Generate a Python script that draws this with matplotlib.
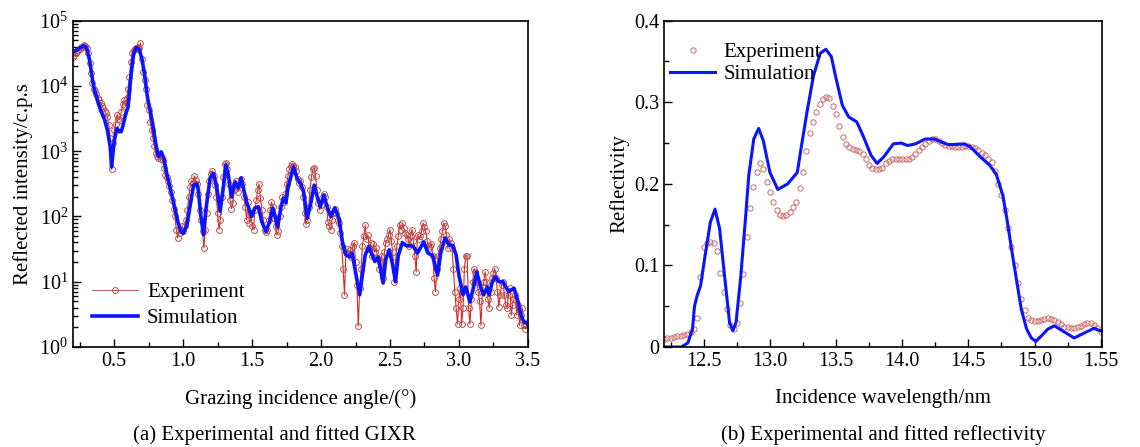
import numpy as np
import matplotlib
matplotlib.use("Agg")
import matplotlib.pyplot as plt
from matplotlib.ticker import MultipleLocator, LogLocator, NullFormatter

plt.rcParams["font.family"] = ["Liberation Serif", "DejaVu Serif"]
plt.rcParams["mathtext.fontset"] = "custom"
plt.rcParams["mathtext.rm"] = "Liberation Serif"
plt.rcParams["mathtext.it"] = "Liberation Serif:italic"

# (a) GIXR, experiment sampled every 0.01 deg from 0.20 to 3.50, values as log10(c.p.s)
gixr_exp_log10 = [
    4.45, 4.47, 4.50, 4.52, 4.55, 4.57, 4.59, 4.60, 4.62, 4.61,
    4.58, 4.50, 4.35, 4.20, 4.05, 3.96, 3.93, 3.88, 3.82, 3.78,
    3.74, 3.70, 3.66, 3.62, 3.58, 3.52, 3.40, 3.20, 2.72, 3.12,
    3.32, 3.42, 3.56, 3.50, 3.48, 3.60, 3.72, 3.78, 3.70, 3.82,
    3.96, 4.14, 4.37, 4.50, 4.55, 4.57, 4.58, 4.60, 4.58, 4.66,
    4.42, 4.22, 4.09, 3.96, 3.71, 3.63, 3.45, 3.32, 3.20, 3.08,
    2.97, 2.92, 2.90, 2.92, 2.88, 2.86, 2.75, 2.63, 2.60, 2.55,
    2.47, 2.38, 2.25, 2.12, 2.00, 1.80, 1.67, 1.80, 1.75, 1.85,
    1.78, 1.85, 1.95, 2.10, 2.30, 2.45, 2.55, 2.52, 2.62, 2.56,
    2.50, 2.35, 2.10, 1.95, 1.77, 1.52, 1.80, 2.05, 2.35, 2.55,
    2.65, 2.70, 2.62, 2.48, 2.30, 2.05, 1.80, 1.95, 2.30, 2.60,
    2.80, 2.82, 2.72, 2.50, 2.25, 2.12, 2.20, 2.40, 2.55, 2.45,
    2.38, 2.52, 2.58, 2.50, 2.30, 2.15, 1.95, 2.22, 1.90, 2.05,
    1.85, 1.80, 2.10, 2.25, 2.40, 2.50, 2.28, 2.10, 1.95, 1.80,
    1.76, 1.80, 1.95, 2.10, 2.22, 2.15, 1.98, 1.85, 1.72, 1.78,
    2.00, 2.15, 2.30, 2.22, 2.35, 2.50, 2.62, 2.72, 2.78, 2.80,
    2.78, 2.76, 2.70, 2.58, 2.52, 2.55, 2.45, 2.30, 2.05, 1.88,
    1.95, 2.15, 2.40, 2.60, 2.72, 2.75, 2.62, 2.40, 2.20, 2.10,
    2.18, 2.28, 2.35, 2.30, 2.15, 1.92, 1.85, 1.80, 1.95, 2.05,
    2.12, 2.05, 1.95, 1.90, 1.75, 1.55, 1.20, 0.80, 1.45, 1.50,
    1.42, 1.48, 1.38, 1.55, 1.60, 1.30, 0.95, 0.32, 0.90, 1.20,
    1.55, 1.70, 1.87, 1.65, 1.72, 1.50, 1.60, 1.40, 1.58, 1.45,
    1.52, 1.35, 1.20, 1.30, 1.40, 1.05, 1.45, 1.60, 1.65, 1.72,
    1.80, 1.62, 1.45, 1.00, 1.30, 1.55, 1.70, 1.87, 1.80, 1.90,
    1.82, 1.75, 1.72, 1.66, 1.55, 1.70, 1.80, 1.62, 1.40, 1.15,
    1.72, 1.65, 1.70, 1.78, 1.90, 1.84, 1.77, 1.62, 1.51, 1.55,
    1.58, 1.40, 1.05, 0.85, 1.20, 1.40, 1.51, 1.65, 1.77, 1.90,
    1.85, 1.72, 1.51, 1.66, 1.60, 1.51, 1.20, 0.85, 0.60, 0.35,
    0.74, 0.90, 0.35, 0.60, 1.20, 1.40, 1.40, 0.60, 0.35, 0.74,
    1.00, 1.20, 1.15, 1.00, 0.85, 0.70, 0.33, 0.85, 1.00, 1.15,
    1.00, 0.74, 0.60, 0.85, 1.05, 1.13, 1.20, 1.05, 0.85, 0.62,
    0.80, 0.95, 1.00, 0.80, 0.65, 0.60, 0.80, 0.90, 0.49, 0.65,
    0.74, 0.80, 0.49, 0.65, 0.33, 0.49, 0.60, 0.33, 0.28, 0.33,
    0.38,
]

gixr_sim_angle = [
    0.20, 0.25, 0.28, 0.30, 0.32, 0.35, 0.38, 0.40, 0.43, 0.45,
    0.47, 0.48, 0.49, 0.50, 0.52, 0.535, 0.55, 0.56, 0.58, 0.60,
    0.62, 0.64, 0.66, 0.68, 0.70, 0.72, 0.74, 0.76, 0.78, 0.80,
    0.82, 0.84, 0.86, 0.88, 0.90, 0.92, 0.94, 0.96, 0.98, 1.00,
    1.027, 1.075, 1.10, 1.11, 1.127, 1.147, 1.166, 1.195, 1.22, 1.244,
    1.268, 1.287, 1.31, 1.328, 1.35, 1.376, 1.40, 1.42, 1.46, 1.497,
    1.52, 1.545, 1.57, 1.60, 1.63, 1.65, 1.665, 1.685, 1.71, 1.726,
    1.745, 1.76, 1.80, 1.825, 1.85, 1.873, 1.90, 1.927, 1.95, 1.975,
    1.995, 2.02, 2.044, 2.07, 2.10, 2.13, 2.155, 2.18, 2.21, 2.225,
    2.25, 2.28, 2.30, 2.32, 2.345, 2.37, 2.39, 2.415, 2.45, 2.47,
    2.495, 2.52, 2.54, 2.56, 2.59, 2.62, 2.65, 2.67, 2.70, 2.745,
    2.775, 2.81, 2.845, 2.87, 2.90, 2.93, 2.955, 2.98, 3.00, 3.03,
    3.05, 3.08, 3.105, 3.13, 3.16, 3.18, 3.205, 3.22, 3.24, 3.265,
    3.29, 3.32, 3.36, 3.40, 3.43, 3.45, 3.47, 3.50,
]
gixr_sim_log10 = [
    4.52, 4.58, 4.62, 4.58, 4.40, 3.99, 3.76, 3.63, 3.48, 3.32,
    3.07, 2.76, 2.96, 3.17, 3.35, 3.30, 3.30, 3.37, 3.55, 3.68,
    4.14, 4.50, 4.59, 4.56, 4.42, 4.17, 3.83, 3.63, 3.40, 3.12,
    2.92, 2.99, 2.89, 2.66, 2.48, 2.30, 2.12, 1.93, 1.78, 1.74,
    1.87, 2.48, 2.50, 2.40, 2.02, 1.72, 2.13, 2.59, 2.66, 2.44,
    2.08, 2.38, 2.79, 2.63, 2.30, 2.53, 2.44, 2.59, 2.22, 2.00,
    2.13, 2.15, 1.92, 1.77, 1.94, 2.13, 2.02, 1.84, 2.15, 2.28,
    2.21, 2.44, 2.76, 2.59, 2.51, 2.38, 1.97, 2.22, 2.48, 2.28,
    2.15, 2.33, 2.15, 2.00, 2.13, 1.97, 1.61, 1.41, 1.38, 1.44,
    1.15, 0.80, 1.10, 1.41, 1.54, 1.41, 1.31, 1.38, 0.98, 1.35,
    1.49, 1.25, 1.00, 1.40, 1.60, 1.55, 1.55, 1.54, 1.44, 1.61,
    1.44, 1.40, 1.10, 1.46, 1.67, 1.56, 1.56, 1.41, 1.10, 0.80,
    0.92, 0.69, 0.90, 1.15, 0.90, 0.80, 0.92, 0.80, 0.98, 1.08,
    1.00, 1.00, 0.85, 0.90, 0.69, 0.49, 0.39, 0.35,
]

# (b) EUV reflectivity, experiment sampled every 0.025 nm from 12.2 to 15.5
refl_exp = [
    0.010, 0.0105, 0.011, 0.012, 0.013, 0.0135, 0.015, 0.016, 0.018, 0.022,
    0.035, 0.086, 0.122, 0.127, 0.129, 0.127, 0.118, 0.091, 0.068, 0.046,
    0.027, 0.022, 0.030, 0.054, 0.090, 0.135, 0.171, 0.196, 0.214, 0.226,
    0.218, 0.202, 0.190, 0.178, 0.168, 0.162, 0.160, 0.162, 0.166, 0.172,
    0.178, 0.195, 0.215, 0.240, 0.262, 0.276, 0.288, 0.298, 0.304, 0.307,
    0.305, 0.296, 0.286, 0.271, 0.257, 0.249, 0.245, 0.243, 0.242, 0.240,
    0.236, 0.230, 0.223, 0.220, 0.218, 0.218, 0.220, 0.225, 0.228, 0.230,
    0.231, 0.231, 0.231, 0.231, 0.231, 0.233, 0.237, 0.241, 0.245, 0.249,
    0.253, 0.255, 0.255, 0.253, 0.250, 0.248, 0.247, 0.246, 0.245, 0.245,
    0.245, 0.246, 0.246, 0.245, 0.244, 0.241, 0.238, 0.235, 0.231, 0.227,
    0.216, 0.200, 0.186, 0.168, 0.146, 0.122, 0.100, 0.078, 0.059, 0.045,
    0.036, 0.033, 0.032, 0.032, 0.033, 0.034, 0.035, 0.034, 0.033, 0.031,
    0.028, 0.025, 0.024, 0.023, 0.023, 0.024, 0.026, 0.028, 0.029, 0.029,
    0.027, 0.023, 0.018,
]

refl_sim_wl = [
    12.20, 12.33, 12.38, 12.415, 12.43, 12.45, 12.476, 12.51, 12.55, 12.585,
    12.62, 12.66, 12.695, 12.72, 12.744, 12.78, 12.817, 12.84, 12.878, 12.915,
    12.95, 13.00, 13.06, 13.134, 13.207, 13.235, 13.28, 13.33, 13.38, 13.423,
    13.464, 13.50, 13.548, 13.596, 13.656, 13.704, 13.764, 13.81, 13.86, 13.933,
    13.993, 14.04, 14.10, 14.173, 14.245, 14.30, 14.35, 14.47, 14.517, 14.59,
    14.66, 14.71, 14.76, 14.795, 14.83, 14.867, 14.90, 14.94, 14.976, 15.01,
    15.06, 15.10, 15.15, 15.22, 15.30, 15.36, 15.45, 15.51,
]
refl_sim = [
    0.000, 0.000, 0.005, 0.022, 0.050, 0.063, 0.075, 0.112, 0.153, 0.169,
    0.145, 0.083, 0.030, 0.020, 0.030, 0.087, 0.161, 0.210, 0.255, 0.268,
    0.253, 0.214, 0.193, 0.200, 0.214, 0.243, 0.288, 0.333, 0.360, 0.365,
    0.356, 0.329, 0.296, 0.282, 0.276, 0.259, 0.235, 0.225, 0.233, 0.249,
    0.250, 0.247, 0.249, 0.255, 0.255, 0.251, 0.248, 0.249, 0.245, 0.233,
    0.223, 0.212, 0.186, 0.153, 0.116, 0.079, 0.046, 0.022, 0.011, 0.007,
    0.015, 0.022, 0.026, 0.019, 0.011, 0.016, 0.023, 0.019,
]

refl_xticks = [12.5, 13.0, 13.5, 14.0, 14.5, 15.0, 15.5]
refl_xticklabels = ["12.5", "13.0", "13.5", "14.0", "14.5", "15.0", "1.55"]

SIM_BLUE = "#0a14ff"
EXP_LINE = "#d42a2a"
EXP_EDGE = "#b8504a"
EXP_EDGE_B = "#c96a6a"


def style_axis(ax):
    ax.tick_params(which="both", direction="in", top=False, right=False,
                   labelsize=14.5, width=1.0)
    ax.tick_params(which="major", length=6)
    ax.tick_params(which="minor", length=3.5)
    for spine in ax.spines.values():
        spine.set_linewidth(1.2)


fig = plt.figure(figsize=(11.4, 4.47), dpi=100)
ax_a = fig.add_axes([0.064, 0.2237, 0.399, 0.730])
ax_b = fig.add_axes([0.5825, 0.2237, 0.3842, 0.730])

# (a)
exp_angle = np.linspace(0.2, 3.5, len(gixr_exp_log10))
ax_a.plot(exp_angle, 10.0 ** np.array(gixr_exp_log10), color=EXP_LINE, lw=0.8,
          marker="o", ms=4.2, mfc="none", mec=EXP_EDGE, mew=0.7,
          label="Experiment")
ax_a.plot(gixr_sim_angle, 10.0 ** np.array(gixr_sim_log10), color=SIM_BLUE,
          lw=2.6, label="Simulation")
ax_a.set_yscale("log")
ax_a.set_xlim(0.2, 3.5)
ax_a.set_ylim(1, 1e5)
ax_a.xaxis.set_major_locator(MultipleLocator(0.5))
ax_a.xaxis.set_minor_locator(MultipleLocator(0.25))
ax_a.yaxis.set_major_locator(LogLocator(base=10, numticks=10))
ax_a.yaxis.set_minor_locator(LogLocator(base=10, subs=np.arange(2, 10), numticks=10))
ax_a.yaxis.set_minor_formatter(NullFormatter())
style_axis(ax_a)
ax_a.set_xlabel("Grazing incidence angle/(°)", fontsize=15, labelpad=13)
ax_a.set_ylabel("Reflected intensity/c.p.s", fontsize=15, labelpad=4)
leg_a = ax_a.legend(loc="lower left", bbox_to_anchor=(0.0, 0.0), frameon=False,
                    fontsize=15, handlelength=2.2, handletextpad=0.45,
                    labelspacing=0.3)
leg_a.get_lines()[0].set_color("#b86a6a")

# (b)
exp_wl = np.linspace(12.2, 15.5, len(refl_exp))
ax_b.plot(exp_wl, refl_exp, ls="none", marker="o", ms=3.8, mfc="none",
          mec=EXP_EDGE_B, mew=0.7, label="Experiment")
ax_b.plot(refl_sim_wl, refl_sim, color=SIM_BLUE, lw=2.2, label="Simulation")
ax_b.set_xlim(12.2, 15.51)
ax_b.set_ylim(0, 0.4)
ax_b.set_xticks(refl_xticks)
ax_b.set_xticklabels(refl_xticklabels)
ax_b.xaxis.set_minor_locator(MultipleLocator(0.25))
ax_b.set_yticks([0, 0.1, 0.2, 0.3, 0.4])
ax_b.set_yticklabels(["0", "0.1", "0.2", "0.3", "0.4"])
ax_b.yaxis.set_minor_locator(MultipleLocator(0.05))
style_axis(ax_b)
ax_b.set_xlabel("Incidence wavelength/nm", fontsize=15, labelpad=13)
ax_b.set_ylabel("Reflectivity", fontsize=15, labelpad=3)
ax_b.legend(loc="upper left", bbox_to_anchor=(-0.03, 0.99), frameon=False,
            fontsize=15, handlelength=2.2, handletextpad=0.4,
            labelspacing=0.1, numpoints=1)

fig.text(0.241, 0.027, "(a) Experimental and fitted GIXR", fontsize=15,
         ha="center", va="center")
fig.text(0.775, 0.027, "(b) Experimental and fitted reflectivity", fontsize=15,
         ha="center", va="center")

fig.savefig("out.png", dpi=100)
